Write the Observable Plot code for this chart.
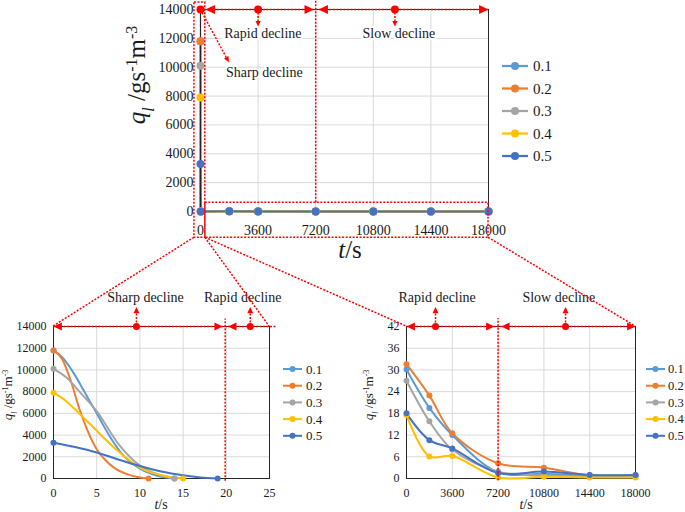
<!DOCTYPE html>
<html><head><meta charset="utf-8">
<script src="https://cdn.jsdelivr.net/npm/d3@7"></script>
<script src="https://cdn.jsdelivr.net/npm/@observablehq/plot@0.6"></script>
<style>
html,body{margin:0;padding:0;background:#fff;}
#wrap{position:relative;width:685px;height:512px;overflow:hidden;background:#fff;font-family:"Liberation Serif","Times New Roman",Times,"DejaVu Serif",serif;}
#wrap > svg{position:absolute;}
#wrap svg text, #wrap svg tspan{font-family:"Liberation Serif","Times New Roman",Times,"DejaVu Serif",serif !important;}
</style></head><body><div id="wrap"></div>
<script>
// ---------------- data ----------------
const series = ["0.1", "0.2", "0.3", "0.4", "0.5"];
const colors = ["#5B9BD5", "#ED7D31", "#A5A5A5", "#FFC000", "#4472C4"];

// Sharp-decline stage: [t (s), q (g s-1 m-3)] (markers at first and last point)
const sharp01 = [[0, 11800], [1.2, 11000], [2.5, 9500], [3.5, 8100], [5, 6000], [6.5, 3900], [8, 2200], [10, 900], [12, 250], [14, 0]];
const sharp02 = [[0, 11800], [1, 11000], [2, 9000], [3, 6400], [4, 4300], [5, 2700], [6, 1700], [7, 1000], [8.5, 400], [10, 100], [11, 0]];
const sharp03 = [[0, 10100], [1.5, 9300], [3, 8000], [5, 6200], [7.5, 3200], [10, 1200], [12, 400], [14, 0]];
const sharp04 = [[0, 7900], [1.5, 7100], [3.1, 5900], [5, 4400], [7.5, 2500], [10, 1000], [12.5, 300], [15, 0]];
const sharp05 = [[0, 3300], [2.5, 2900], [5, 2400], [7.5, 1750], [10, 1150], [12.5, 650], [15, 300], [17, 100], [19, 0]];

// Rapid / slow decline stages
const lateT = [0, 1800, 3600, 7200, 10800, 14400, 18000];
const late01 = [30.1, 19.5, 12.0, 1.7, 1.3, 0.8, 0.8];
const late02 = [31.6, 22.9, 12.5, 4.2, 3.0, 0.9, 0.9];
const late03 = [27.0, 15.8, 8.0, 1.9, 0.8, 0.5, 0.5];
const late04 = [17.5, 6.1, 6.2, 0.3, 0.5, 0.3, 0.3];
const late05 = [18.0, 10.6, 8.3, 1.5, 1.9, 1.0, 1.0];

// ticks
const topXTicks = [0, 3600, 7200, 10800, 14400, 18000];
const topYTicks = [0, 2000, 4000, 6000, 8000, 10000, 12000, 14000];
const leftXTicks = [0, 5, 10, 15, 20, 25];
const leftYTicks = [0, 2000, 4000, 6000, 8000, 10000, 12000, 14000];
const rightXTicks = [0, 3600, 7200, 10800, 14400, 18000];
const rightYTicks = [0, 6, 12, 18, 24, 30, 36, 42];

// ---------------- records ----------------
const sharpSets = [sharp01, sharp02, sharp03, sharp04, sharp05];
const lateSets = [late01, late02, late03, late04, late05];

const leftLine = sharpSets.flatMap((pts, i) => pts.map(([t, q]) => ({s: series[i], t, q})));
const leftDots = sharpSets.flatMap((pts, i) => [pts[0], pts[pts.length - 1]].map(([t, q]) => ({s: series[i], t, q})));
const rightLine = lateSets.flatMap((vals, i) => vals.map((q, j) => ({s: series[i], t: lateT[j], q})));
const topLine = series.flatMap((s, i) => [
  ...sharpSets[i].map(([t, q]) => ({s, t, q})),
  ...lateT.map((t, j) => ({s, t, q: lateSets[i][j]})).filter(d => d.t > 0)
]);
const topDots = [...leftDots, ...rightLine.filter(d => d.t > 0)];

// ---------------- styles ----------------
const fontFamily = '"Liberation Serif","Times New Roman",Times,"DejaVu Serif",serif';
const ink = "#1a1a1a";
const red = "#FF0000";
const dash = "2,1.5";
const grid = "#D9D9D9";
const fmt = d => String(d);

function tri(angle) { // filled triangle, tip at the anchor, pointing toward angle (deg; 0 right, 90 down)
  const a = angle * Math.PI / 180, c = Math.cos(a), s = Math.sin(a);
  return {draw(ctx, size) {
    const r = Math.sqrt(size / Math.PI), L = 2.1 * r, W = 1.0 * r;
    const bx = -L * c, by = -L * s, px = -s * W, py = c * W;
    ctx.moveTo(0, 0); ctx.lineTo(bx + px, by + py); ctx.lineTo(bx - px, by - py); ctx.closePath();
  }};
}
const dl = {stroke: red, strokeWidth: 1.5, strokeDasharray: dash};

function gridMarks(xt, yt) {
  return [
    Plot.gridX(xt, {stroke: grid, strokeOpacity: 1, strokeWidth: 1}),
    Plot.gridY(yt, {stroke: grid, strokeOpacity: 1, strokeWidth: 1}),
    Plot.frame({stroke: "#262626", strokeWidth: 1})
  ];
}
function axisMarks(xt, yt, fs, padX, padY) {
  return [
    Plot.axisX(xt, {tickSize: 0, tickPadding: padX, fontSize: fs, tickFormat: fmt, label: null, fill: ink}),
    Plot.axisY(yt, {tickSize: 0, tickPadding: padY, fontSize: fs, tickFormat: fmt, label: null, fill: ink})
  ];
}
function noteMarks(n, rTip, rUp, rDot, fs) {
  return [
    Plot.rect(n.rects || [], {x1: "x1", x2: "x2", y1: "y1", y2: "y2", fill: "none", ...dl}),
    Plot.ruleX(n.vrules || [], {x: "x", y1: "y1", y2: "y2", ...dl}),
    Plot.ruleY(n.hrules || [], {y: "y", x1: "x1", x2: "x2", ...dl}),
    Plot.link(n.links || [], {x1: "x1", y1: "y1", x2: "x2", y2: "y2", ...dl}),
    Plot.dot(n.left || [], {x: "x", y: "y", symbol: tri(180), r: rTip, fill: red}),
    Plot.dot(n.right || [], {x: "x", y: "y", symbol: tri(0), r: rTip, fill: red}),
    Plot.dot(n.down || [], {x: "x", y: "y", symbol: tri(90), r: rUp, fill: red}),
    Plot.dot(n.up || [], {x: "x", y: "y", symbol: tri(-90), r: rUp, fill: red}),
    Plot.dot(n.diag || [], {x: "x", y: "y", symbol: tri(62), r: rUp, fill: red}),
    Plot.dot(n.dots || [], {x: "x", y: "y", r: rDot, fill: red}),
    Plot.text(n.texts || [], {x: "x", y: "y", text: "t", fontSize: fs, fill: ink, stroke: "white", strokeWidth: 4})
  ];
}

// ---------------- annotations (data coordinates) ----------------
const topNotes = {
  rects: [{x1: -380, x2: 300, y1: -1820, y2: 14480}, {x1: 300, x2: 18000, y1: -1820, y2: 600}],
  vrules: [{x: 7200, y1: 600, y2: 14620}, {x: 3600, y1: 14000, y2: 13000}, {x: 12150, y1: 14000, y2: 13000}],
  hrules: [{y: 14000, x1: 0, x2: 18000}],
  links: [{x1: 0, y1: 14000, x2: 1770, y2: 10350}],
  left: [{x: 310, y: 14000}, {x: 7375, y: 14000}],
  right: [{x: 7090, y: 14000}, {x: 18000, y: 14000}],
  down: [{x: 3600, y: 12820}, {x: 12150, y: 12820}],
  diag: [{x: 1770, y: 10350}],
  dots: [{x: 0, y: 14000}, {x: 3600, y: 14000}, {x: 12150, y: 14000}],
  texts: [{x: 3900, y: 12370, t: "Rapid decline"}, {x: 12400, y: 12370, t: "Slow decline"}, {x: 3990, y: 9630, t: "Sharp decline"}]
};
const leftNotes = {
  vrules: [{x: 19.87, y1: -250, y2: 14700}, {x: 9.6, y1: 14000, y2: 15600}, {x: 22.77, y1: 14000, y2: 15600}],
  hrules: [{y: 14000, x1: 0, x2: 25.9}],
  left: [{x: 0, y: 14000}, {x: 20.2, y: 14000}],
  right: [{x: 19.6, y: 14000}],
  up: [{x: 9.6, y: 15800}, {x: 22.77, y: 15800}],
  dots: [{x: 9.6, y: 14000}, {x: 22.77, y: 14000}],
  texts: [{x: 10.65, y: 16670, t: "Sharp decline"}, {x: 21.9, y: 16670, t: "Rapid decline"}]
};
const rightNotes = {
  vrules: [{x: 7200, y1: -0.6, y2: 44.2}, {x: 2280, y1: 42, y2: 46.9}, {x: 12500, y1: 42, y2: 46.9}],
  hrules: [{y: 42, x1: 0, x2: 18000}],
  left: [{x: 0, y: 42}, {x: 7440, y: 42}],
  right: [{x: 6920, y: 42}, {x: 18000, y: 42}],
  up: [{x: 2280, y: 47.4}, {x: 12500, y: 47.4}],
  dots: [{x: 2280, y: 42}, {x: 12500, y: 42}],
  texts: [{x: 2410, y: 50.0, t: "Rapid decline"}, {x: 11970, y: 50.0, t: "Slow decline"}]
};

const baseStyle = fs => `font-family:${fontFamily};font-size:${fs}px;color:${ink};background:transparent;overflow:visible;`;
const colorScale = {domain: series, range: colors};

// ---------------- top panel ----------------
const topPlot = Plot.plot({
  width: 520, height: 262, marginLeft: 200, marginRight: 32, marginTop: 9, marginBottom: 51,
  x: {domain: [0, 18000], label: null}, y: {domain: [0, 14000], label: null},
  color: colorScale, style: baseStyle(14),
  marks: [
    ...gridMarks(topXTicks, topYTicks),
    ...axisMarks(topXTicks, topYTicks, 14, 14, 7),
    Plot.line(topLine, {x: "t", y: "q", z: "s", stroke: "s", strokeWidth: 2}),
    Plot.ruleX([0], {stroke: "#262626", strokeWidth: 1.2}),
    Plot.dot(topDots, {x: "t", y: "q", fill: "s", r: 4}),
    ...noteMarks(topNotes, 4.5, 2.6, 4, 14)
  ]
});

// ---------------- bottom-left panel ----------------
const leftPlot = Plot.plot({
  width: 340, height: 232, marginLeft: 53, marginRight: 71, marginTop: 46, marginBottom: 34,
  x: {domain: [0, 25], label: null}, y: {domain: [0, 14000], label: null},
  color: colorScale, style: baseStyle(12),
  marks: [
    ...gridMarks(leftXTicks, leftYTicks),
    ...axisMarks(leftXTicks, leftYTicks, 12, 10, 7),
    Plot.line(leftLine, {x: "t", y: "q", z: "s", stroke: "s", strokeWidth: 2, curve: "monotone-x"}),
    Plot.dot(leftDots, {x: "t", y: "q", fill: "s", r: 3}),
    ...noteMarks(leftNotes, 4, 3, 3.5, 14)
  ]
});

// ---------------- bottom-right panel ----------------
const rightPlot = Plot.plot({
  width: 345, height: 232, marginLeft: 66, marginRight: 50, marginTop: 46, marginBottom: 34,
  x: {domain: [0, 18000], label: null}, y: {domain: [0, 42], label: null},
  color: colorScale, style: baseStyle(12),
  marks: [
    ...gridMarks(rightXTicks, rightYTicks),
    ...axisMarks(rightXTicks, rightYTicks, 12, 10, 7),
    Plot.line(rightLine, {x: "t", y: "q", z: "s", stroke: "s", strokeWidth: 2, curve: "catmull-rom"}),
    Plot.dot(rightLine, {x: "t", y: "q", fill: "s", r: 3}),
    ...noteMarks(rightNotes, 4, 3, 3.5, 14)
  ]
});

const wrap = document.getElementById("wrap");
const place = (svg, l, t) => { svg.style.left = l + "px"; svg.style.top = t + "px"; svg.style.position = "absolute"; wrap.appendChild(svg); };
place(topPlot, 0, 0);
place(leftPlot, 0, 280);
place(rightPlot, 340, 280);

// ---------------- overlay: connectors, axis titles, legends ----------------
const ov = d3.create("svg").attr("width", 685).attr("height", 512)
  .style("left", "0px").style("top", "0px").style("pointer-events", "none")
  .style("font-family", fontFamily);
const P = (plot, ox, oy, x, y) => [ox + plot.scale("x").apply(x), oy + plot.scale("y").apply(y)];
const connectors = [
  [P(topPlot, 0, 0, -380, -1820), P(leftPlot, 0, 280, 0, 14000)],
  [P(topPlot, 0, 0, 300, -1820), P(leftPlot, 0, 280, 25, 14000)],
  [P(topPlot, 0, 0, 300, -1820), P(rightPlot, 340, 280, 0, 42)],
  [P(topPlot, 0, 0, 18000, -1820), P(rightPlot, 340, 280, 18000, 42)]
];
ov.selectAll("line.c").data(connectors).join("line")
  .attr("x1", d => d[0][0]).attr("y1", d => d[0][1]).attr("x2", d => d[1][0]).attr("y2", d => d[1][1])
  .attr("stroke", red).attr("stroke-width", 1.5).attr("stroke-dasharray", dash);

function yTitle(x, y, fs) {
  const t = ov.append("text").attr("transform", `translate(${x},${y}) rotate(-90)`)
    .attr("text-anchor", "middle").attr("font-size", fs).attr("fill", ink);
  const small = Math.round(fs * 0.65);
  t.append("tspan").attr("font-style", "italic").text("q");
  t.append("tspan").attr("font-style", "italic").attr("font-size", small).attr("baseline-shift", "sub").text("l");
  t.append("tspan").text(" /gs");
  t.append("tspan").attr("font-size", small).attr("baseline-shift", "super").text("-1");
  t.append("tspan").text("m");
  t.append("tspan").attr("font-size", small).attr("baseline-shift", "super").text("-3");
}
function xTitle(x, y, fs) {
  const t = ov.append("text").attr("x", x).attr("y", y).attr("text-anchor", "middle").attr("font-size", fs).attr("fill", ink);
  t.append("tspan").attr("font-style", "italic").text("t");
  t.append("tspan").text("/s");
}
yTitle(145, 75, 25);
xTitle(350, 258, 25);
yTitle(12, 395, 13);
yTitle(373, 395, 13);
xTitle(161, 509, 14);
xTitle(526, 509, 14);

function legend(x1, x2, xt, y0, dy, fs, r, sw) {
  series.forEach((s, i) => {
    const y = y0 + i * dy;
    ov.append("line").attr("x1", x1).attr("x2", x2).attr("y1", y).attr("y2", y).attr("stroke", colors[i]).attr("stroke-width", sw);
    ov.append("circle").attr("cx", (x1 + x2) / 2).attr("cy", y).attr("r", r).attr("fill", colors[i]);
    ov.append("text").attr("x", xt).attr("y", y).attr("dy", "0.35em").attr("font-size", fs).attr("fill", ink).text(s);
  });
}
legend(502, 528, 533, 66, 22.5, 15, 4, 2.25);
legend(283, 302, 306, 369, 16.7, 13, 3, 2);
legend(646, 665, 668, 369, 16.7, 12.5, 3, 2);

wrap.appendChild(ov.node());
</script></body></html>
